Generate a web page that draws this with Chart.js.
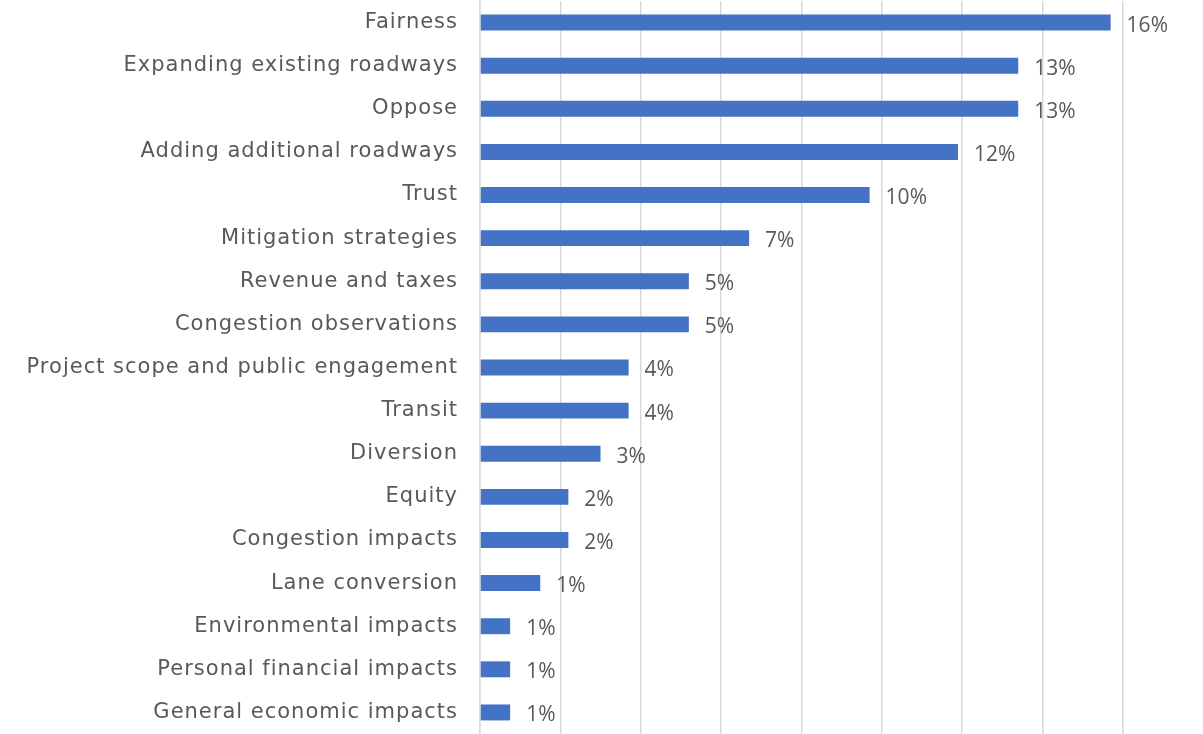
<!DOCTYPE html>
<html>
<head>
<meta charset="utf-8">
<script src="https://cdn.jsdelivr.net/npm/chart.js@4/dist/chart.umd.min.js"></script>
<style>
  html, body { margin: 0; padding: 0; background: #fff; }
  #wrap { width: 1203px; height: 734px; }
</style>
</head>
<body>
<div id="wrap"><canvas id="myChart" width="1203" height="734"></canvas></div>
<script>
const categories = [
  "Fairness",
  "Expanding existing roadways",
  "Oppose",
  "Adding additional roadways",
  "Trust",
  "Mitigation strategies",
  "Revenue and taxes",
  "Congestion observations",
  "Project scope and public engagement",
  "Transit",
  "Diversion",
  "Equity",
  "Congestion impacts",
  "Lane conversion",
  "Environmental impacts",
  "Personal financial impacts",
  "General economic impacts"
];
const shares = [15.7, 13.4, 13.4, 11.9, 9.7, 6.7, 5.2, 5.2, 3.7, 3.7, 3.0, 2.2, 2.2, 1.5, 0.75, 0.75, 0.75];
const shareLabels = ["16%", "13%", "13%", "12%", "10%", "7%", "5%", "5%", "4%", "4%", "3%", "2%", "2%", "1%", "1%", "1%", "1%"];

// wider spacing for the category names only (reference uses a wide geometric face)
const spacing = {
  id: "spacing",
  beforeDraw(chart) { chart.ctx.letterSpacing = "1px"; },
  beforeDatasetsDraw(chart) { chart.ctx.letterSpacing = "0px"; }
};

const valueLabels = {
  id: "valueLabels",
  afterDatasetsDraw(chart) {
    const ctx = chart.ctx;
    const meta = chart.getDatasetMeta(0);
    ctx.save();
    ctx.font = "21px 'Open Sans'";
    ctx.fillStyle = "#595959";
    ctx.textAlign = "left";
    ctx.textBaseline = "middle";
    meta.data.forEach((bar, i) => {
      ctx.fillText(shareLabels[i], bar.x + 16, bar.y + 3);
    });
    ctx.restore();
  }
};

const ctx = document.getElementById("myChart");
new Chart(ctx, {
  type: "bar",
  data: {
    labels: categories,
    datasets: [
      {
        data: shares,
        backgroundColor: "#4472C4",
        barPercentage: 0.37,
        categoryPercentage: 1,
      },
    ],
  },
  options: {
    indexAxis: "y",
    responsive: false,
    animation: false,
    layout: { padding: { top: 1, right: 0, bottom: 0, left: 0 } },
    plugins: {
      legend: { display: false },
      tooltip: { enabled: false },
    },
    scales: {
      x: {
        min: 0,
        max: 18,
        ticks: { display: false, stepSize: 2 },
        grid: {
          color: (c) => (c.tick && c.tick.value >= 18 ? "rgba(0,0,0,0)" : "#d9d9d9"),
          lineWidth: 1.5,
          drawTicks: false,
        },
        border: { display: false },
      },
      y: {
        afterFit: (scale) => {
          scale.width = 480;
          scale.paddingTop = 0;
          scale.paddingBottom = 0;
        },
        ticks: {
          color: "#595959",
          font: { family: "'DejaVu Sans'", size: 21 },
          padding: 22,
          autoSkip: false,
        },
        grid: { display: false, drawTicks: false },
        border: { display: true, color: "#d9d9d9", width: 1.5 },
      },
    },
  },
  plugins: [spacing, valueLabels],
});
</script>
</body>
</html>
